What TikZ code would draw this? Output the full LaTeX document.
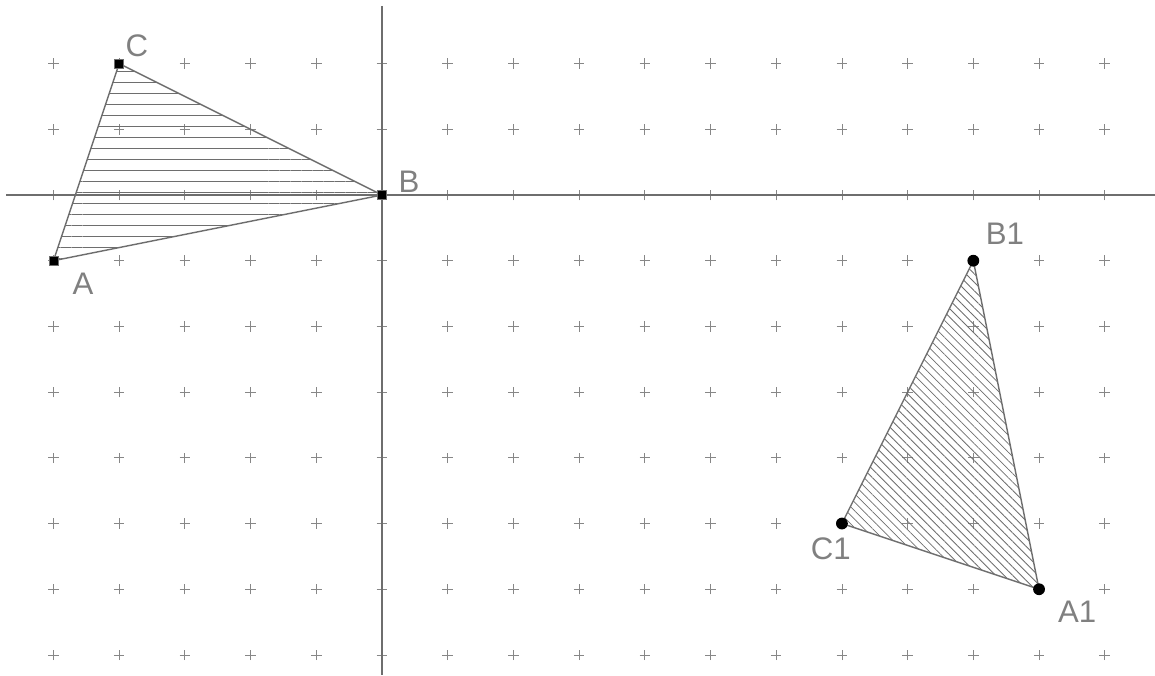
\documentclass[tikz,border=0pt]{standalone}
\usepackage{fontspec}
\setmainfont{Liberation Sans}
\usetikzlibrary{patterns.meta, positioning}

\definecolor{grigiolinea}{RGB}{110,110,110}
\definecolor{grigiogriglia}{RGB}{135,135,135}
\definecolor{grigiotesto}{RGB}{128,128,128}

\begin{document}
\begin{tikzpicture}[
    lato/.style={draw=grigiolinea, line width=0.6pt},
    quadpt/.style={rectangle, fill=black, draw=grigiolinea, line width=0.3pt, minimum size=0.14cm, inner sep=0pt},
    tondopt/.style={circle, fill=black, minimum size=0.18cm, inner sep=0pt},
    etich/.style={text=grigiotesto, font=\fontsize{13.5}{15}\selectfont, inner sep=0pt}
]
    \useasboundingbox (-5.814,-7.306) rectangle (11.765,2.968);

    % Griglia
    \foreach \x in {-5,...,11}
      \foreach \y in {-7,...,2}
        \draw[grigiogriglia, line width=0.35pt] (\x-0.08,\y) -- (\x+0.08,\y) (\x,\y-0.08) -- (\x,\y+0.08);

    % Assi
    \draw[grigiolinea, line width=0.6pt] (-5.72,0) -- (11.765,0);
    \draw[grigiolinea, line width=0.6pt] (0,2.877) -- (0,-7.306);

    % Triangolo ABC
    \coordinate (A) at (-5,-1);
    \coordinate (B) at (0,0);
    \coordinate (C) at (-4,2);
    \draw[lato, pattern={Lines[angle=0, distance=4.75pt, line width=0.35pt]}, pattern color=grigiolinea] (A) -- (B) -- (C) -- cycle;

    % Triangolo A1B1C1
    \coordinate (A1) at (10,-6);
    \coordinate (B1) at (9,-1);
    \coordinate (C1) at (7,-5);
    \draw[lato, pattern={Lines[angle=-45, distance=2.6pt, line width=0.35pt]}, pattern color=grigiolinea] (A1) -- (B1) -- (C1) -- cycle;

    % Punti
    \foreach \p in {A,B,C}
      \node[quadpt] (pt\p) at (\p) {};
    \foreach \p in {A1,B1,C1}
      \node[tondopt] (pt\p) at (\p) {};

    % Etichette
    \node[etich] (labA) at (-4.55,-1.35) {A};
    \node[etich] (labB) at (0.41,0.20) {B};
    \node[etich] (labC) at (-3.73,2.27) {C};
    \node[etich] (labA1) at (10.58,-6.35) {A1};
    \node[etich] (labB1) at (9.48,-0.59) {B1};
    \node[etich] (labC1) at (6.83,-5.39) {C1};
\end{tikzpicture}
\end{document}
